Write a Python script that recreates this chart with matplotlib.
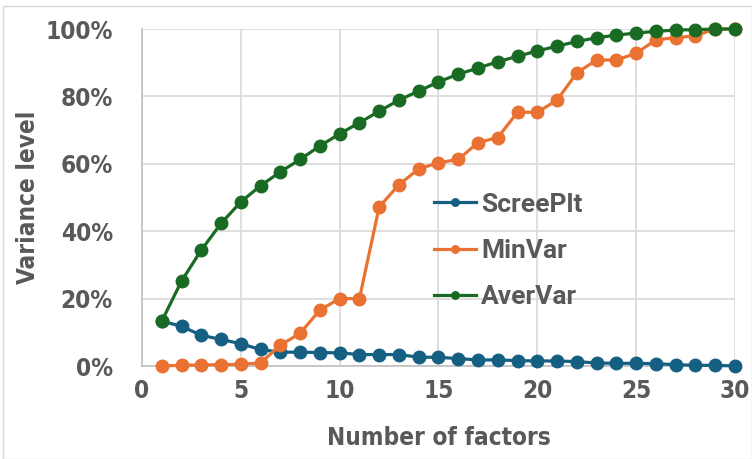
import numpy as np
import matplotlib
matplotlib.use("Agg")
import matplotlib.pyplot as plt
from matplotlib.patches import Rectangle

factors = list(range(1, 31))
scree_plt = [13.3, 11.8, 9.1, 7.9, 6.6, 4.9, 4.1, 4.1, 4.0, 3.9,
             3.4, 3.4, 3.4, 2.6, 2.6, 2.2, 1.8, 1.8, 1.6, 1.5,
             1.5, 1.3, 0.9, 0.8, 0.8, 0.7, 0.4, 0.2, 0.2, 0.0]
min_var = [0.0, 0.2, 0.3, 0.4, 0.5, 0.9, 6.2, 9.7, 16.6, 20.0,
           20.0, 47.2, 53.8, 58.5, 60.3, 61.3, 66.3, 67.8, 75.3, 75.3,
           78.9, 87.0, 90.8, 90.8, 92.8, 96.8, 97.4, 98.0, 100.0, 100.0]
aver_var = [13.3, 25.2, 34.4, 42.3, 48.7, 53.5, 57.6, 61.3, 65.3, 68.9,
            72.2, 75.6, 78.9, 81.6, 84.3, 86.6, 88.4, 90.3, 91.9, 93.5,
            94.9, 96.3, 97.4, 98.2, 98.8, 99.3, 99.7, 99.8, 100.0, 100.0]
series = [("ScreePlt", scree_plt, "#156082"),
          ("MinVar", min_var, "#E97132"),
          ("AverVar", aver_var, "#196B24")]
y_ticks = [0, 20, 40, 60, 80, 100]
x_ticks = [0, 5, 10, 15, 20, 25, 30]

text_gray = "#595959"
tick_font = dict(family="DejaVu Sans", stretch="condensed", weight="bold", size=17.5)

fig = plt.figure(figsize=(7.52, 4.59), dpi=100)
fig.patches.append(Rectangle((0.004, 0.0), 0.996, 0.987, transform=fig.transFigure,
                             fill=False, edgecolor="#D9D9D9", linewidth=1))
ax = fig.add_axes([0.1888, 0.2026, 0.7886, 0.7342])

for name, vals, color in series:
    ax.plot(factors, np.array(vals) / 100.0, "-o", color=color, lw=2.3,
            markersize=9, label=name, clip_on=False, zorder=3)

ax.set_xlim(0, 30)
ax.set_ylim(0, 1)
ax.set_xticks(x_ticks)
ax.set_yticks([v / 100 for v in y_ticks])
ax.set_yticklabels(["{}%".format(v) for v in y_ticks])
ax.grid(True, color="#D9D9D9", lw=1.2)
ax.set_axisbelow(True)
for s in ["top", "right"]:
    ax.spines[s].set_visible(False)
for s in ["left", "bottom"]:
    ax.spines[s].set_color("#BFBFBF")
    ax.spines[s].set_linewidth(1.2)
ax.tick_params(length=0, colors=text_gray)
ax.tick_params(axis="y", pad=21)
ax.tick_params(axis="x", pad=9)
for lab in ax.get_xticklabels() + ax.get_yticklabels():
    lab.set_fontproperties(tick_font)

ax.set_xlabel("Number of factors", fontdict=tick_font, color=text_gray, labelpad=17)
ax.set_ylabel("Variance level", fontdict=tick_font, color=text_gray)
ax.yaxis.set_label_coords(-0.172, 0.5)

leg = ax.legend(loc="upper left", bbox_to_anchor=(0.452, 0.585), frameon=False,
                prop={"family": "Roboto", "weight": "bold", "size": 19},
                handlelength=1.6, handletextpad=0.2, labelspacing=0.85,
                markerscale=0.6)
for t in leg.get_texts():
    t.set_color(text_gray)

fig.savefig("out.png", dpi=100)
